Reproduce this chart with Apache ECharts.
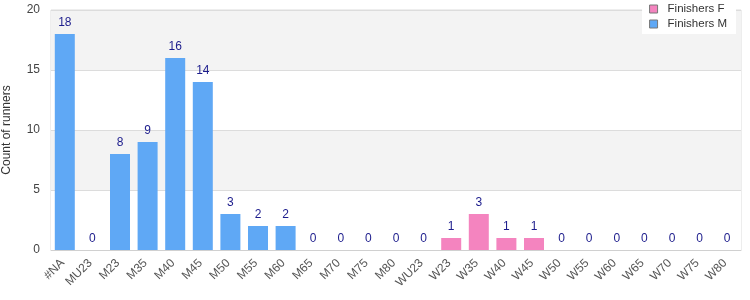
<!DOCTYPE html>
<html><head><meta charset="utf-8">
<script src="https://cdn.jsdelivr.net/npm/echarts@6/dist/echarts.min.js"></script>
<style>html,body{margin:0;padding:0;background:#fff}#c{width:750px;height:300px}</style>
</head><body><div id="c"></div>
<script>
const categories = ['#NA','MU23','M23','M35','M40','M45','M50','M55','M60','M65','M70','M75','M80','WU23','W23','W35','W40','W45','W50','W55','W60','W65','W70','W75','W80'];
const finishersM = [18,0,8,9,16,14,3,2,2,0,0,0,0,0,null,null,null,null,null,null,null,null,null,null,null];
const finishersF = [null,null,null,null,null,null,null,null,null,null,null,null,null,null,1,3,1,1,0,0,0,0,0,0,0];
const yTicks = {min:0, max:20, interval:5};

const chart = echarts.init(document.getElementById('c'), null, {renderer:'canvas'});
const font = 'Liberation Sans';
const lbl = {show:true, position:'top', color:'#1c1c8c', fontFamily:font, fontSize:12, distance:5};
chart.setOption({
  animation:false,
  textStyle:{fontFamily:font},
  grid:{left:51, right:9, top:10, bottom:50, show:true, borderColor:'#dcdcdc', borderWidth:1, containLabel:false, outerBoundsMode:'none'},
  legend:{
    show:true, orient:'vertical', right:14, top:1, backgroundColor:'#fff', padding:[2,9,4,7],
    itemWidth:8, itemHeight:8, itemGap:3, icon:'rect',
    textStyle:{fontFamily:font, fontSize:11.5, color:'#333', lineHeight:12, padding:[0,0,0,5]},
    data:[{name:'Finishers F', itemStyle:{borderColor:'#777', borderWidth:1}},{name:'Finishers M', itemStyle:{borderColor:'#777', borderWidth:1}}]
  },
  xAxis:{type:'category', data:categories,
    axisLine:{show:true, lineStyle:{color:'#d0d0d0'}}, axisTick:{show:false},
    axisLabel:{rotate:45, interval:0, color:'#555', fontFamily:font, fontSize:12, margin:9, padding:[0,3,0,0]}},
  yAxis:{type:'value', min:yTicks.min, max:yTicks.max, interval:yTicks.interval,
    name:'Count of runners', nameLocation:'middle', nameGap:38, nameRotate:90,
    nameTextStyle:{color:'#333', fontFamily:font, fontSize:12},
    axisLine:{show:false}, axisTick:{show:false},
    axisLabel:{color:'#444', fontFamily:font, fontSize:12, margin:11},
    splitLine:{show:true, lineStyle:{color:'#dcdcdc'}},
    splitArea:{show:true, areaStyle:{color:['#ffffff','#f3f3f3']}}},
  series:[
    {name:'Finishers F', type:'bar', stack:'s', data:finishersF, barWidth:20, itemStyle:{color:'#f484bf'}, label:lbl},
    {name:'Finishers M', type:'bar', stack:'s', data:finishersM, barWidth:20, itemStyle:{color:'#5fa8f5'}, label:lbl}
  ]
});
</script></body></html>
